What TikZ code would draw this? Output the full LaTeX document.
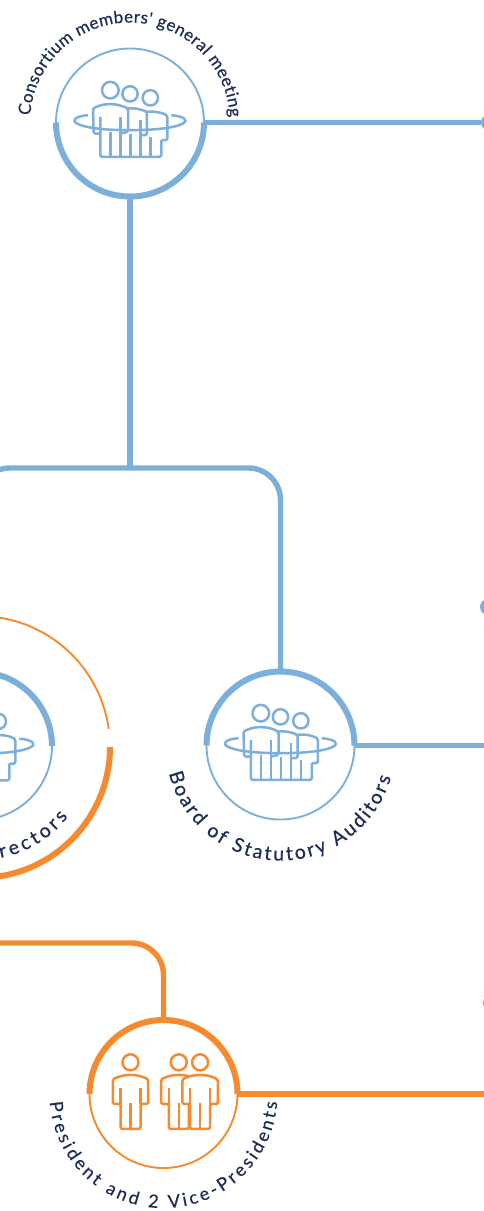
\documentclass[tikz,border=0pt]{standalone}
\usepackage{fontspec}
\setmainfont{Lato}
\newfontfamily\lblface{Lato}[FakeBold=0.5]
\usetikzlibrary{decorations.text,calc}
\definecolor{cblue}{HTML}{7DAFDB}
\definecolor{corange}{HTML}{F58A2E}
\definecolor{cnavy}{HTML}{1D2D56}
\def\lblfont{\lblface\fontsize{17}{17}\selectfont\color{cnavy}}
\def\lblfontb{\lblface\fontsize{19.5}{19.5}\selectfont\color{cnavy}}
\def\lblfontc{\lblface\fontsize{18}{18}\selectfont\color{cnavy}}
\tikzset{
  ringthin/.style={circle,draw=#1,line width=1.9pt,minimum size=148pt,inner sep=0pt,outer sep=0pt},
  thickline/.style={draw=#1,line width=5.4pt,line cap=butt},
  arcthick/.style={draw=#1,line width=6pt,line cap=butt},
  dotnode/.style={circle,fill=#1,minimum size=16pt,inner sep=0pt,outer sep=0pt},
  icon/.style={draw=#1,line width=2.5pt,line join=round,rounded corners=1.5pt},
  pics/assembly/.style={code={
    \begin{scope}[x=.3333pt,y=-.3333pt,shift={(-391,-367)},icon=#1]
      \draw (332,270) circle[radius=25];
      \draw (391,281) circle[radius=23];
      \draw (452,293) circle[radius=23];
      % ring, open at the top
      \draw[rounded corners=0pt] (265,345) .. controls (190,352) and (210,390) .. (391,390) .. controls (572,390) and (592,352) .. (515,345);
      % bodies
      \draw (300,400) -- (282,400) -- (280,325) .. controls (300,315) and (315,312) .. (332,312) .. controls (352,312) and (370,318) .. (385,325) -- (385,395) -- (362,400);
      \draw (385,325) .. controls (405,322) and (425,328) .. (442,335) -- (442,405) -- (422,405);
      \draw (442,335) .. controls (465,332) and (490,338) .. (503,347) -- (503,420) -- (485,420);
      \draw (302,350) -- (302,470) -- (485,470) -- (485,420);
      \draw (332,395) -- (332,470);
      \draw (362,350) -- (362,470);
      \draw (392,400) -- (392,470);
      \draw (422,360) -- (422,470);
      \draw (452,410) -- (452,470);
    \end{scope}
  }},
  pics/person/.style={code={
    \begin{scope}[x=.3333pt,y=-.3333pt,icon=corange]
      \draw (0,-45) circle[radius=24];
      \draw[fill=white] (-30,80) -- (-30,155) -- (30,155) -- (30,80) -- (53,80) -- (53,6) .. controls (35,-3) and (18,-7) .. (0,-7) .. controls (-18,-7) and (-35,-3) .. (-53,6) -- (-53,80) -- cycle;
      \draw (-30,33) -- (-30,80);
      \draw (30,33) -- (30,80);
      \draw (0,78) -- (0,155);
    \end{scope}
  }}
}
\begin{document}
\begin{tikzpicture}[x=1pt,y=1pt]
\useasboundingbox (0,-1211) rectangle (484,0);
\clip (0,-1211) rectangle (484,0);

% rings
\node[ringthin=cblue] (gm) at (130,-122.5) {};
\node[ringthin=cblue] (aud) at (280.5,-745.5) {};
\node[ringthin=cblue] (dir) at (-22,-746) {};
\node[ringthin=corange] (pres) at (163.5,-1094) {};
\coordinate (outer) at (-21,-747);

% end dots
\node[dotnode=cblue] (d1) at (489,-122.5) {};
\node[dotnode=cblue] (d2) at (488,-607) {};
\node[dotnode=corange] (d3) at (491,-1003) {};

% junctions
\coordinate (j) at (130,-468);
\coordinate (obus) at (-40,-943);

% connectors
\draw[thickline=cblue] (gm.east) -- (d1);
\draw[thickline=cblue] (aud.east) -- (aud.east -| d1) ;
\draw[thickline=corange] (pres.east) -- (pres.east -| d1);
\draw[thickline=cblue] (gm.south) -- (j);
\draw[thickline=cblue,rounded corners=32pt] (dir.north) -- (dir.north |- j) -- (aud.north |- j) -- (aud.north);
\draw[thickline=corange,rounded corners=32pt] (obus) -- (obus -| pres.north) -- (pres.north);

% heavy arcs
\draw[arcthick=cblue] (gm.west) arc[start angle=180,end angle=360,radius=74pt];
\draw[arcthick=cblue] (aud.west) arc[start angle=180,end angle=0,radius=74pt];
\draw[arcthick=cblue] (dir.west) arc[start angle=180,end angle=0,radius=74pt];
\draw[arcthick=corange] (pres.west) arc[start angle=180,end angle=0,radius=74pt];
\draw[corange,line width=1.9pt] ([shift={(100:131)}]outer) arc[start angle=100,end angle=8,radius=131pt];
\draw[arcthick=corange] ([shift={(0:131)}]outer) arc[start angle=0,end angle=-100,radius=131pt];

% icons
\pic at (gm.center) {assembly=cblue};
\pic at (aud.center) {assembly=cblue};
\pic at (dir.center) {assembly=cblue};
\pic at ($(pres.center)+(-33,16.7)$) {person};
\pic at ($(pres.center)+(15.3,16.7)$) {person};
\pic at ($(pres.center)+(36.6,16.7)$) {person};

% curved labels
\path[decorate,decoration={text along path,text align={fit to path},text={|\lblfont|Consortium members' general meeting}}]
  ([shift={(176:100)}]gm.center) arc[start angle=176,end angle=3,radius=100pt];
\path[decorate,decoration={text along path,text align={fit to path},text={|\lblfontb|Board of Statutory Auditors}}]
  ([shift={(194:115)}]aud.center) arc[start angle=194,end angle=344,radius=115pt];
\path[decorate,decoration={text along path,text align={fit to path},text={|\lblfontb|rectors}}]
  ([shift={(-79:113)}]outer) arc[start angle=-79,end angle=-38,radius=113pt];
\path[decorate,decoration={text along path,text align={fit to path},text={|\lblfontc|President and 2 Vice-Presidents}}]
  ([shift={(184:114)}]pres.center) arc[start angle=184,end angle=356,radius=114pt];
\end{tikzpicture}
\end{document}
